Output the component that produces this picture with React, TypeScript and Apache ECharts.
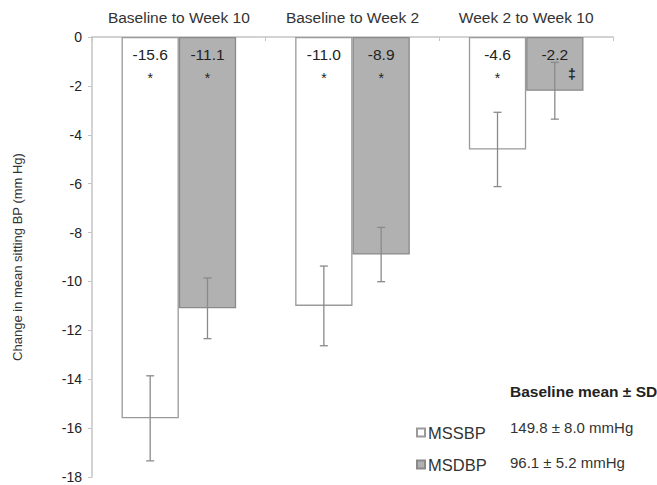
import React, { useEffect, useRef } from "react";
import * as echarts from "echarts";

const categories = ["Baseline to Week 10", "Baseline to Week 2", "Week 2 to Week 10"];
const seriesNames = ["MSSBP", "MSDBP"];
const mssbpValues = [-15.6, -11.0, -4.6];
const msdbpValues = [-11.1, -8.9, -2.2];
const mssbpSD = [1.74, 1.63, 1.52];
const msdbpSD = [1.24, 1.11, 1.16];
const mssbpMarks = ["*", "*", "*"];
const msdbpMarks = ["*", "*", "‡"];
const baselineTitle = "Baseline mean ± SD";
const baselineStats = ["149.8 ± 8.0 mmHg", "96.1 ± 5.2 mmHg"];
const yTicks = { min: -18, max: 0, interval: 2 };

const FONT = "'Liberation Sans', Arial, sans-serif";
const BAR_FRAC = 0.33;

function makeErrorSeries(name: string, values: number[], sds: number[], marks: string[], side: number) {
  return {
    type: "custom",
    name,
    z: 5,
    data: values.map((v, i) => [i, v, sds[i]]),
    encode: { x: 0, y: 1 },
    renderItem: (params: any, api: any) => {
      const idx = api.value(0);
      const v = api.value(1);
      const sd = api.value(2);
      const mark = marks[idx];
      const band = api.size([1, 0])[0];
      const bw = band * BAR_FRAC;
      const c = api.coord([idx, v]);
      const x = c[0] + (side * bw) / 2;
      const yTop = api.coord([idx, v + sd])[1];
      const yBot = api.coord([idx, v - sd])[1];
      const y0 = api.coord([idx, 0])[1];
      const cap = 4;
      const st = { stroke: "#8a8a8a", lineWidth: 1.3 };
      const isDagger = mark === "‡";
      return {
        type: "group",
        children: [
          { type: "line", shape: { x1: x, y1: yTop, x2: x, y2: yBot }, style: st },
          { type: "line", shape: { x1: x - cap, y1: yTop, x2: x + cap, y2: yTop }, style: st },
          { type: "line", shape: { x1: x - cap, y1: yBot, x2: x + cap, y2: yBot }, style: st },
          {
            type: "text",
            x: isDagger ? x + 17 : x,
            y: isDagger ? y0 + 37 : y0 + 41,
            style: {
              text: mark,
              fill: "#222",
              font: `${isDagger ? "bold 14" : "14"}px ${FONT}`,
              align: "center",
              verticalAlign: "middle",
            },
          },
        ],
      };
    },
  };
}

export default function App() {
  const ref = useRef<HTMLDivElement>(null);
  useEffect(() => {
    if (!ref.current) return;
    const chart = echarts.init(ref.current, null, { renderer: "svg" });
    const barLabel = {
      show: true,
      position: "insideTop",
      distance: 9,
      color: "#222",
      fontSize: 15.5,
      fontFamily: FONT,
      formatter: (p: any) => p.value.toFixed(1),
    };
    chart.setOption({
      animation: false,
      textStyle: { fontFamily: FONT },
      grid: { left: 92, right: 44, top: 37, bottom: 8 },
      xAxis: {
        type: "category",
        position: "top",
        data: categories,
        axisLine: { show: true, lineStyle: { color: "#c4c4c4", width: 1.5 } },
        axisTick: { show: true, inside: true, length: 4, lineStyle: { color: "#c4c4c4" } },
        axisLabel: {
          color: "#333",
          fontSize: 15.5,
          margin: 12,
          fontFamily: FONT,
          interval: 0,
          hideOverlap: false,
        },
      },
      yAxis: {
        type: "value",
        min: yTicks.min,
        max: yTicks.max,
        interval: yTicks.interval,
        name: "Change in mean sitting BP (mm Hg)",
        nameLocation: "middle",
        nameRotate: 90,
        nameGap: 68,
        nameTextStyle: { color: "#333", fontSize: 13, fontFamily: FONT },
        axisLine: { show: true, lineStyle: { color: "#c4c4c4", width: 1.5 } },
        axisTick: { show: true, length: 4, lineStyle: { color: "#c4c4c4" } },
        axisLabel: { color: "#222", fontSize: 14, margin: 10, fontFamily: FONT },
        splitLine: { show: false },
      },
      legend: {
        data: seriesNames,
        orient: "vertical",
        left: 411,
        top: 419,
        itemWidth: 8,
        itemHeight: 8,
        itemGap: 15,
        icon: "rect",
        textStyle: { color: "#333", fontSize: 16.5, fontFamily: FONT, padding: [0, 0, 0, -2] },
      },
      graphic: [
        {
          type: "text",
          x: 510,
          y: 391,
          style: {
            text: baselineTitle,
            fill: "#222",
            font: `bold 15.5px ${FONT}`,
            verticalAlign: "middle",
          },
        },
        ...baselineStats.map((s, i) => ({
          type: "text",
          x: 510,
          y: 427 + i * 35,
          style: { text: s, fill: "#333", font: `15px ${FONT}`, verticalAlign: "middle" },
        })),
      ],
      series: [
        {
          type: "bar",
          name: seriesNames[0],
          data: mssbpValues,
          barWidth: `${BAR_FRAC * 100}%`,
          barGap: "0%",
          itemStyle: { color: "#ffffff", borderColor: "#9a9a9a", borderWidth: 1.3 },
          label: barLabel,
        },
        {
          type: "bar",
          name: seriesNames[1],
          data: msdbpValues,
          barWidth: `${BAR_FRAC * 100}%`,
          barGap: "0%",
          itemStyle: { color: "#b1b1b1", borderColor: "#8a8a8a", borderWidth: 1.3 },
          label: barLabel,
        },
        makeErrorSeries("errA", mssbpValues, mssbpSD, mssbpMarks, -1),
        makeErrorSeries("errB", msdbpValues, msdbpSD, msdbpMarks, 1),
      ],
    });
    return () => chart.dispose();
  }, []);
  return (
    <div
      ref={ref}
      style={{ position: "fixed", left: 0, top: 0, width: 657, height: 485, background: "#fff" }}
    />
  );
}
